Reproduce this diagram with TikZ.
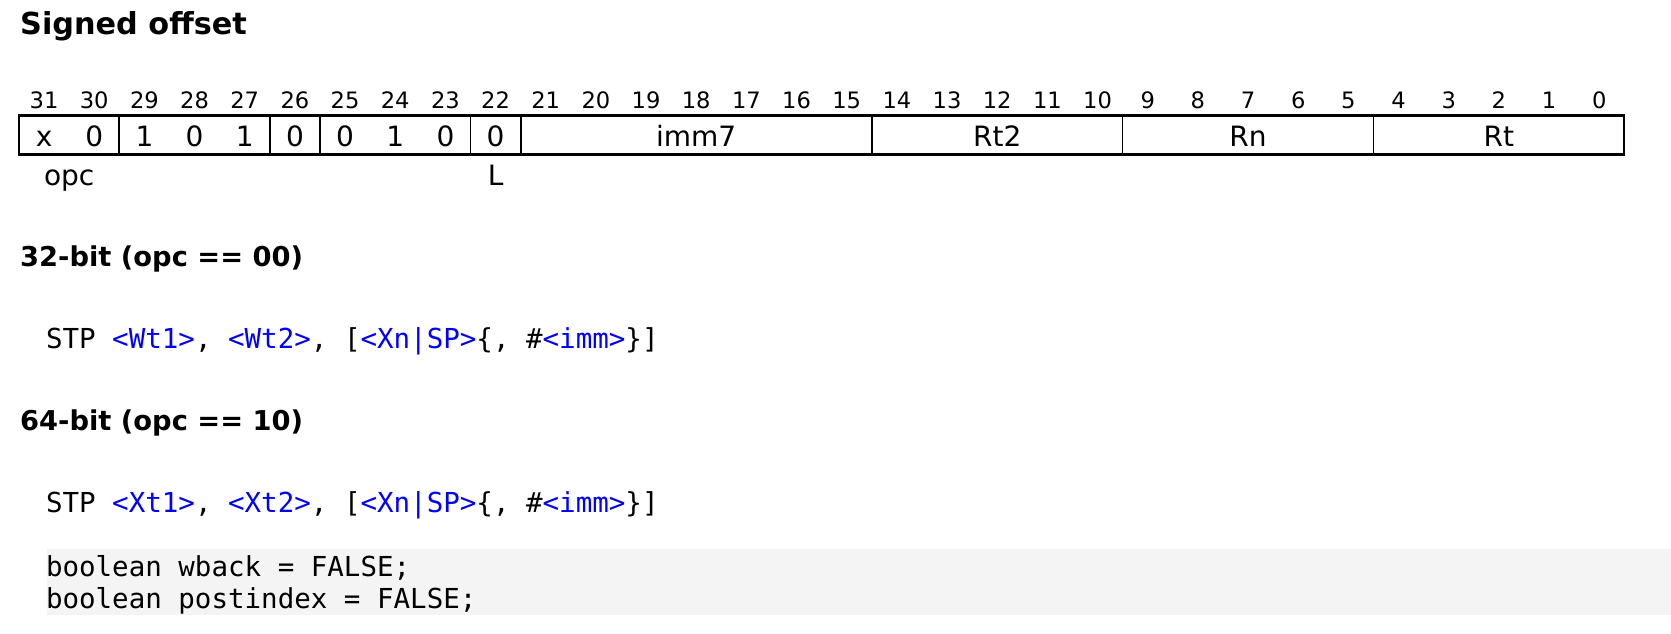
\documentclass[tikz,border=0pt]{standalone}
\usepackage{fontspec}
\setmainfont{DejaVu Sans}
\newfontfamily\codefont{DejaVu Sans Mono}
\definecolor{codeblue}{RGB}{0,0,255}
\definecolor{codebg}{RGB}{244,244,244}
\newcommand\hlb[1]{\textcolor{codeblue}{#1}}
\begin{document}
\begin{tikzpicture}[x=1pt,y=-1pt,
  titletext/.style={anchor=base west, inner sep=0pt, font=\fontsize{30.3}{36}\selectfont\bfseries},
  headtext/.style={anchor=base west, inner sep=0pt, font=\fontsize{27.3}{32}\selectfont\bfseries},
  bitnum/.style={anchor=base, inner sep=0pt, font=\fontsize{22.6}{27}\selectfont},
  celltext/.style={anchor=base, inner sep=0pt, font=\fontsize{28}{34}\selectfont},
  codetext/.style={anchor=base west, inner sep=0pt, font=\fontsize{27.5}{32}\selectfont\codefont},
  boxline/.style={line width=2.1pt},
  boxbottom/.style={line width=3pt},
  sepline/.style={line width=1.7pt},
]
\useasboundingbox (0,0) rectangle (1671,633);
\def\BL{19}
\def\BW{50.165}
\def\BT{115.5}
\def\BB{154}

% title
\node[titletext] (title) at (20,34.5) {Signed offset};

% bit numbers
\foreach \i in {0,...,31} {
  \node[bitnum] (bn\i) at ({\BL+(31-\i+0.5)*\BW},108.3) {\i};
}

% register box
\coordinate (tl) at (\BL,\BT);
\coordinate (tr) at ({\BL+32*\BW},\BT);
\coordinate (bl) at (\BL,\BB);
\coordinate (br) at ({\BL+32*\BW},\BB);
\draw[boxline] (bl) -- (tl) -- (tr) -- (br);
\draw[boxbottom] ([xshift=-1pt]bl) -- ([xshift=1pt]br);
\foreach \k in {2,5,6,9,10,17,22,27} {
  \coordinate (st\k) at ({\BL+\k*\BW},\BT);
  \coordinate (sb\k) at ({\BL+\k*\BW},\BB);
  \draw[sepline] (st\k) -- (sb\k);
}

% bit values
\foreach \v [count=\c from 0] in {x,0,1,0,1,0,0,1,0,0} {
  \node[celltext] (bv\c) at ({\BL+(\c+0.5)*\BW},146.7) {\v};
}
\node[celltext] (imm) at ({\BL+13.5*\BW},146.7) {imm7};
\node[celltext] (rt2) at ({\BL+19.5*\BW},146.7) {Rt2};
\node[celltext] (rn) at ({\BL+24.5*\BW},146.7) {Rn};
\node[celltext] (rt) at ({\BL+29.5*\BW},146.7) {Rt};

% field labels below
\node[celltext] (opc) at ({\BL+1*\BW},185) {opc};
\node[celltext] (lbit) at ({\BL+9.5*\BW},185) {L};

% 32-bit
\node[headtext] (h32) at (20,266.7) {32-bit (opc == 00)};
\node[codetext] (c32) at (45.8,348.3) {STP \hlb{<Wt1>}, \hlb{<Wt2>}, [\hlb{<Xn|SP>}\{, \#\hlb{<imm>}\}]};

% 64-bit
\node[headtext] (h64) at (20,430.7) {64-bit (opc == 10)};
\node[codetext] (c64) at (45.8,512.5) {STP \hlb{<Xt1>}, \hlb{<Xt2>}, [\hlb{<Xn|SP>}\{, \#\hlb{<imm>}\}]};

% code block
\fill[codebg] (46.7,549.3) rectangle (1671,614.5);
\node[codetext] (l1) at (45.8,576.5) {boolean wback = FALSE;};
\node[codetext] (l2) at (45.8,608) {boolean postindex = FALSE;};
\end{tikzpicture}
\end{document}
